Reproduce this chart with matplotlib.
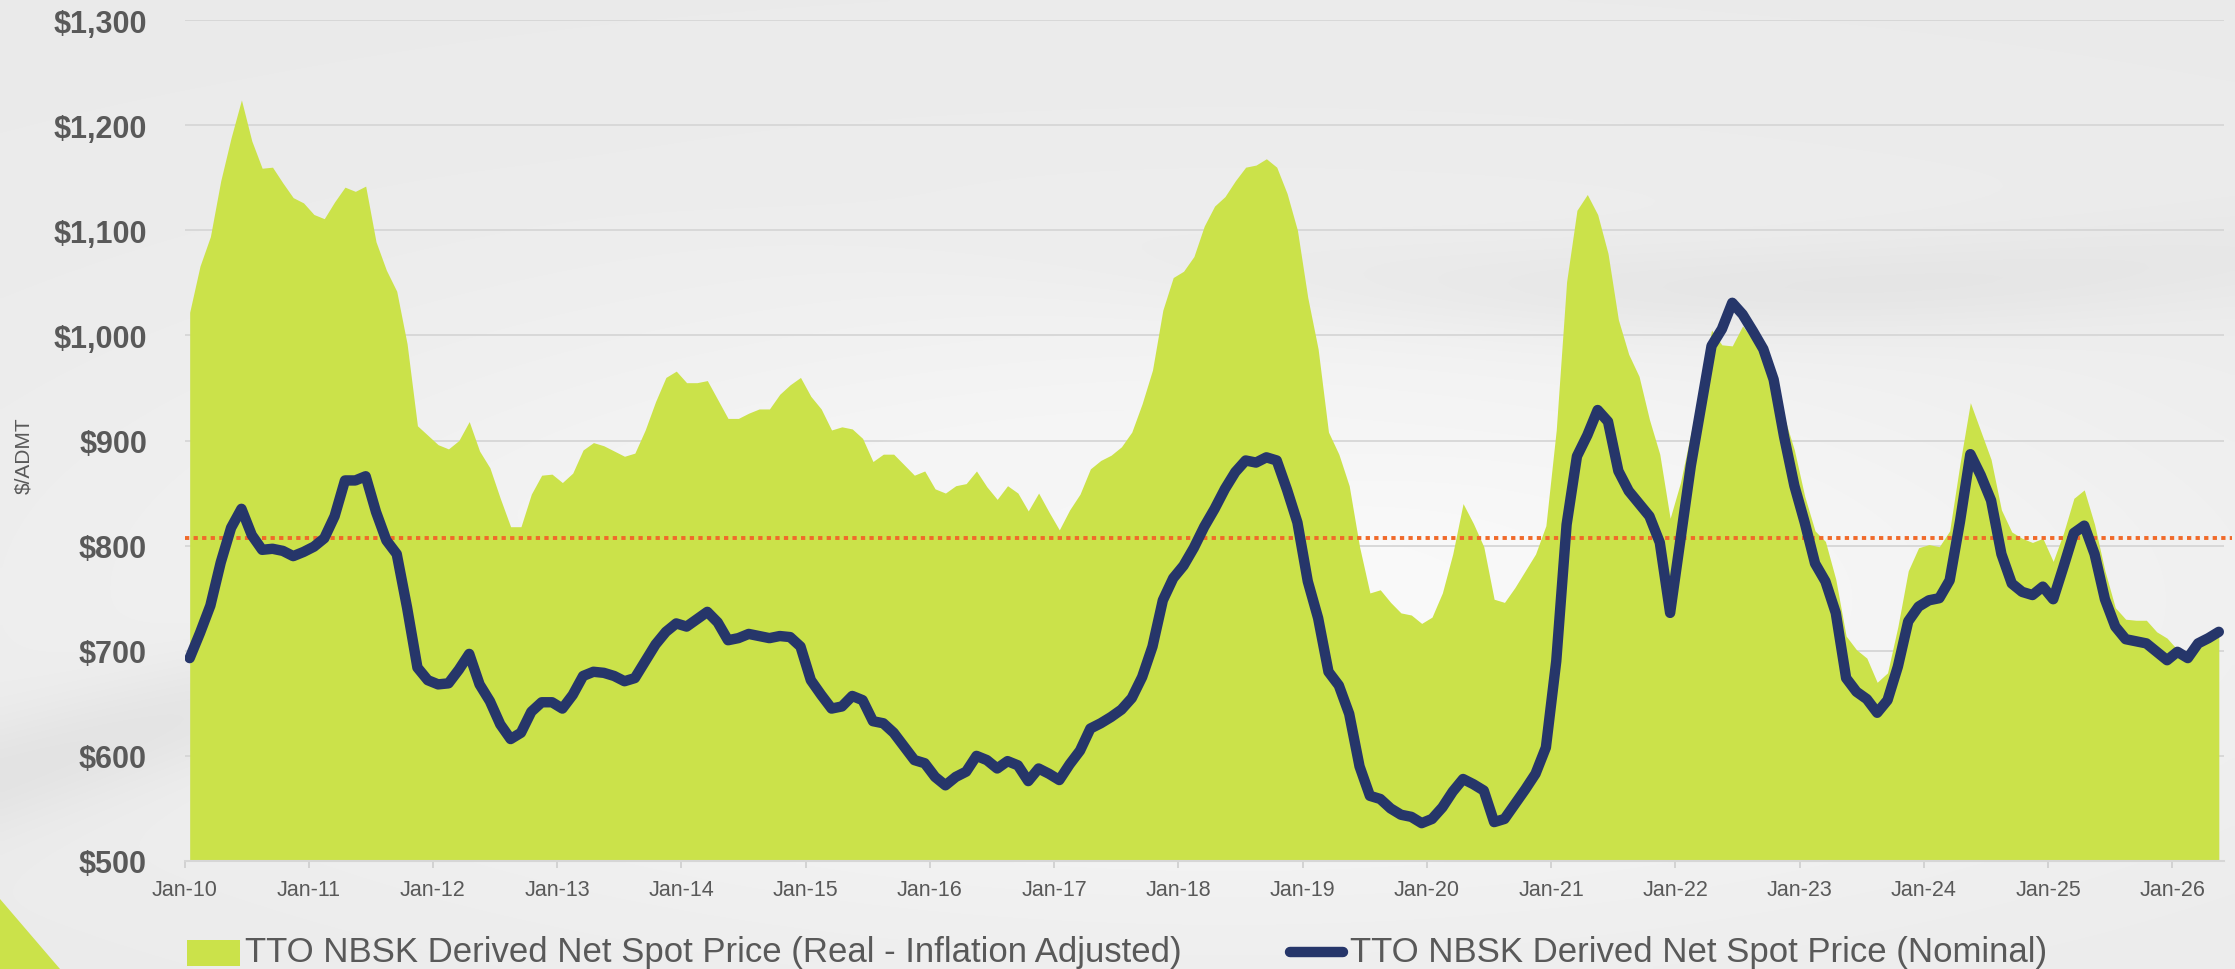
import matplotlib.pyplot as plt
import numpy as np
from matplotlib.patches import Rectangle, Polygon
from matplotlib.lines import Line2D


# monthly values, Jan-10 .. May-26, $/ADMT
real_price = [1022, 1066, 1094, 1147, 1188, 1224, 1185, 1159, 1160, 1145, 1131, 1126,
              1115, 1111, 1127, 1141, 1137, 1142, 1089, 1062, 1042, 992, 914, 905,
              896, 892, 900, 918, 890, 874, 845, 818, 818, 849, 867, 868,
              860, 869, 891, 898, 895, 890, 885, 888, 910, 937, 960, 966,
              955, 955, 957, 939, 921, 921, 926, 930, 930, 944, 953, 960,
              942, 930, 910, 913, 911, 902, 880, 887, 887, 877, 867, 871,
              854, 850, 857, 859, 871, 856, 844, 857, 850, 833, 850, 832,
              815, 834, 849, 873, 881, 886, 894, 908, 935, 967, 1024, 1055,
              1061, 1075, 1104, 1123, 1132, 1147, 1160, 1162, 1168, 1160, 1135, 1100,
              1036, 987, 908, 887, 857, 799, 755, 758, 746, 736, 734, 726,
              732, 755, 792, 840, 821, 799, 749, 746, 760, 776, 792, 819,
              910, 1051, 1119, 1134, 1115, 1078, 1015, 982, 961, 920, 887, 826,
              860, 907, 953, 1005, 991, 990, 1009, 996, 983, 957, 923, 891,
              847, 814, 804, 768, 714, 701, 693, 670, 679, 723, 776, 798,
              801, 799, 814, 878, 936, 909, 882, 834, 813, 807, 803, 807,
              785, 812, 845, 853, 820, 776, 741, 730, 729, 729, 718, 712,
              701, 700, 706, 710, 714]

nominal_price = [693, 717, 743, 784, 817, 835, 810, 796, 797, 795, 790, 794,
                 799, 807, 828, 862, 862, 866, 832, 805, 792, 741, 684, 672,
                 668, 669, 682, 697, 668, 652, 630, 616, 622, 642, 651, 651,
                 645, 658, 676, 680, 679, 676, 671, 674, 690, 706, 718, 726,
                 723, 730, 737, 727, 710, 712, 716, 714, 712, 714, 713, 704,
                 672, 658, 645, 647, 657, 653, 633, 631, 622, 609, 596, 593,
                 580, 572, 580, 585, 600, 596, 588, 595, 591, 576, 588, 583,
                 577, 592, 605, 626, 631, 637, 644, 655, 675, 704, 748, 769,
                 781, 798, 818, 835, 854, 870, 881, 879, 884, 881, 853, 822,
                 766, 731, 680, 667, 640, 590, 562, 559, 550, 544, 542, 536,
                 540, 551, 566, 578, 573, 567, 537, 540, 554, 568, 583, 608,
                 690, 820, 885, 905, 929, 918, 871, 852, 840, 828, 803, 736,
                 806, 876, 933, 990, 1006, 1031, 1020, 1004, 987, 958, 904, 857,
                 822, 783, 766, 736, 674, 661, 654, 641, 653, 685, 728, 742,
                 748, 750, 767, 823, 887, 867, 843, 792, 764, 756, 753, 761,
                 749, 780, 812, 819, 792, 749, 723, 711, 709, 707, 699, 691,
                 699, 693, 707, 712, 718]

reference_level = 807

year_labels = ["Jan-10", "Jan-11", "Jan-12", "Jan-13", "Jan-14", "Jan-15",
               "Jan-16", "Jan-17", "Jan-18", "Jan-19", "Jan-20", "Jan-21",
               "Jan-22", "Jan-23", "Jan-24", "Jan-25", "Jan-26"]

y_ticks = [500, 600, 700, 800, 900, 1000, 1100, 1200, 1300]

GREEN = "#cbe24a"
NAVY = "#26366a"
ORANGE = "#f06a2a"
GREY_TXT = "#595959"
W, H = 2235, 970

plt.rcParams["font.family"] = ["Liberation Sans", "DejaVu Sans"]

fig = plt.figure(figsize=(W / 100, H / 100), dpi=100)

# soft grey backdrop with a lighter centre and a couple of darker swooshes
bg = fig.add_axes([0, 0, 1, 1], zorder=-10)
gy, gx = np.mgrid[0:1:200j, 0:1:460j]
shade = 0.92 + 0.06 * np.exp(-((gx - 0.55) / 0.45) ** 2 - ((gy - 0.62) / 0.33) ** 2)
curve1 = 0.80 - 0.75 * gx + 0.35 * gx ** 2
shade -= 0.04 * np.exp(-((gy - curve1) / 0.06) ** 2) * np.exp(-((gx - 0.05) / 0.35) ** 2)
curve2 = 0.30 - 0.12 * (gx - 0.75) ** 2 * 4
shade -= 0.035 * np.exp(-((gy - curve2) / 0.05) ** 2) * np.exp(-((gx - 0.8) / 0.25) ** 2)
shade = np.clip(shade, 0, 1)
bg.imshow(np.dstack([shade, shade, shade]), aspect="auto", extent=[0, 1, 0, 1],
          interpolation="bilinear")
bg.axis("off")
bg.set_xlim(0, 1)
bg.set_ylim(0, 1)

# green corner wedge
fig.add_artist(Polygon([(0, 1 - 900 / H), (60 / W, 0), (0, 0)],
                       closed=True, transform=fig.transFigure,
                       facecolor=GREEN, edgecolor="none"))

left = 184.5 / W
right = 2224 / W
top = 1 - 21 / H
bottom = 1 - 862 / H
ax = fig.add_axes([left, bottom, right - left, top - bottom])
ax.set_facecolor("none")

x = np.arange(len(real_price))
ax.fill_between(x, 500, real_price, color=GREEN, linewidth=0, zorder=2)
ax.axhline(reference_level, xmin=0.0, xmax=1.004, color=ORANGE, lw=2.8,
           linestyle=(0, (1.1, 1.1)), zorder=3, clip_on=False)
ax.plot(x, nominal_price, color=NAVY, lw=7.5, solid_joinstyle="round",
        solid_capstyle="round", zorder=4)

ax.set_xlim(-0.5, 196.5)
ax.set_ylim(500, 1300)

ax.set_yticks(y_ticks)
ax.set_yticklabels(["${:,}".format(v) for v in y_ticks])
ax.yaxis.grid(True, color="#d6d6d6", lw=1.3, zorder=0)
ax.set_axisbelow(True)
ax.tick_params(axis="y", length=0, pad=27, labelsize=22, labelcolor=GREY_TXT)
for lab in ax.get_yticklabels():
    lab.set_fontweight("bold")

ax.set_xticks(np.arange(len(year_labels)) * 12 - 0.5)
ax.set_xticklabels(year_labels)
ax.tick_params(axis="x", length=5, width=1.3, color="#d0d0d0", pad=8,
               labelsize=15.5, labelcolor=GREY_TXT)

for side in ["top", "right", "left"]:
    ax.spines[side].set_visible(False)
ax.spines["bottom"].set_color("#d6d6d6")
ax.spines["bottom"].set_linewidth(1.5)

fig.text(24 / W, 1 - 456 / H, "$/ADMT", rotation=90, ha="center", va="center",
         fontsize=15, color=GREY_TXT)

# legend along the bottom
fig.add_artist(Rectangle((187 / W, 3 / H), 53 / W, 26 / H, transform=fig.transFigure,
                         facecolor=GREEN, edgecolor="none"))
fig.text(245 / W, 8 / H, "TTO NBSK Derived Net Spot Price (Real - Inflation Adjusted)",
         fontsize=25, color=GREY_TXT, va="baseline", ha="left")
fig.add_artist(Line2D([1290 / W, 1343 / W], [17 / H, 17 / H], transform=fig.transFigure,
                      color=NAVY, lw=7.5, solid_capstyle="round"))
fig.text(1350 / W, 8 / H, "TTO NBSK Derived Net Spot Price (Nominal)",
         fontsize=25, color=GREY_TXT, va="baseline", ha="left")

fig.savefig("out.png", dpi=100)
